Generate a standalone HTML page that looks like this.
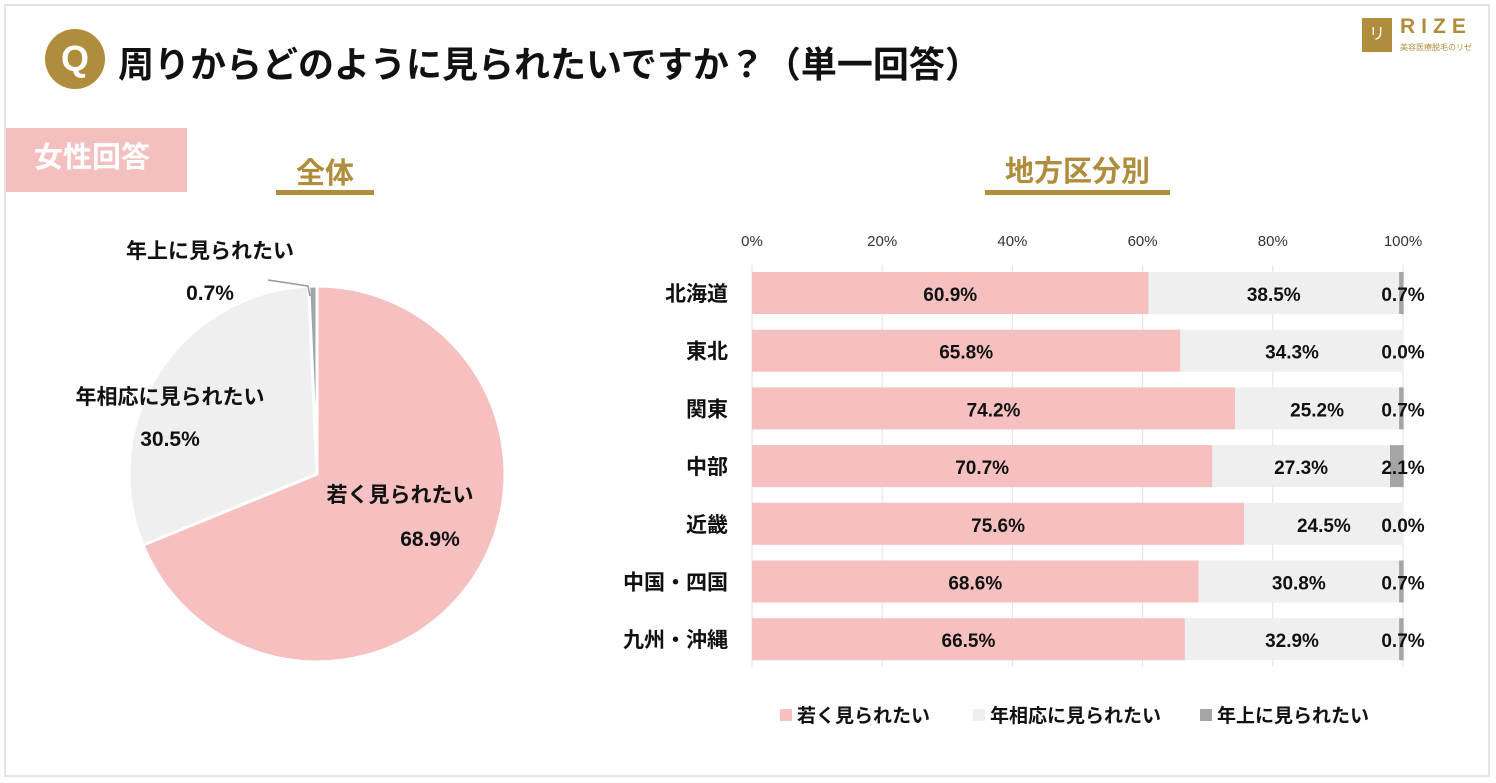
<!DOCTYPE html>
<html><head><meta charset="utf-8"><style>
body{margin:0;background:#fff;}
#wrap{position:relative;width:1496px;height:783px;overflow:hidden;font-family:"Liberation Sans","Noto Sans CJK JP",sans-serif;}
.abs{position:absolute;}
</style></head><body>
<div id="wrap">
<div class="abs" style="left:4px;top:4px;width:1486px;height:773px;border:2px solid #e4e4e4;box-sizing:border-box"></div>
<div class="abs" style="left:45px;top:29px;width:60px;height:60px;border-radius:50%;background:#b08d3c;color:#fff;font-size:36px;font-weight:bold;text-align:center;line-height:60px">Q</div>
<div class="abs" style="left:118px;top:36px;font-size:36px;font-weight:bold;color:#111;white-space:nowrap">周りからどのように見られたいですか？（単一回答）</div>
<div class="abs" style="left:1362px;top:18px;width:30px;height:34px;background:#b08d3c;color:#fff;font-size:16px;text-align:center;line-height:34px">リゼ</div>
<div class="abs" style="left:1400px;top:15px;font-size:21px;font-weight:bold;color:#b08d3c;letter-spacing:6px">RIZE</div>
<div class="abs" style="left:1400px;top:42px;font-size:8px;color:#b08d3c;white-space:nowrap">美容医療脱毛のリゼ</div>
<div class="abs" style="left:6px;top:128px;width:181px;height:64px;background:#f4c0bf;color:#fff;font-size:29px;font-weight:bold;line-height:60px;padding-left:28px;box-sizing:border-box">女性回答</div>
<div class="abs" style="left:276px;top:150px;width:98px;text-align:center;font-size:29px;font-weight:bold;color:#b08d3c">全体</div>
<div class="abs" style="left:276px;top:190px;width:98px;height:5px;background:#b08d3c"></div>
<div class="abs" style="left:985px;top:148px;width:185px;text-align:center;font-size:29px;font-weight:bold;color:#b08d3c">地方区分別</div>
<div class="abs" style="left:985px;top:190px;width:185px;height:5px;background:#b08d3c"></div>
<svg id="chart" class="abs" style="left:0;top:0" width="1496" height="783"></svg>
</div>
<script>
const pieLabels=["若く見られたい","年相応に見られたい","年上に見られたい"];
const pieValues=[68.9,30.5,0.7];
const regions=["北海道","東北","関東","中部","近畿","中国・四国","九州・沖縄"];
const young=[60.9,65.8,74.2,70.7,75.6,68.6,66.5];
const same=[38.5,34.3,25.2,27.3,24.5,30.8,32.9];
const older=[0.7,0.0,0.7,2.1,0.0,0.7,0.7];
const ticks=[0,20,40,60,80,100];
const colors=["#f5c0bf","#efefef","#a5a5a5"];
const svg=document.getElementById('chart');
const NS="http://www.w3.org/2000/svg";
function mk(t,a,p){const e=document.createElementNS(NS,t);for(const k in a)e.setAttribute(k,a[k]);(p||svg).appendChild(e);return e;}
const F='"Liberation Sans","Noto Sans CJK JP",sans-serif';
const cx=317,cy=474,R=188;
const tot=pieValues.reduce((a,b)=>a+b,0);
let ang=0;
const pieLabelPos=[[400,502,430,546],[170,404,170,446],[210,258,210,300]];
pieValues.forEach((v,i)=>{
 const a0=ang/tot*2*Math.PI, a1=(ang+v)/tot*2*Math.PI; ang+=v;
 const x0=cx+R*Math.sin(a0),y0=cy-R*Math.cos(a0),x1=cx+R*Math.sin(a1),y1=cy-R*Math.cos(a1);
 const p=mk('path',{d:`M${cx},${cy}L${x0},${y0}A${R},${R} 0 ${a1-a0>Math.PI?1:0} 1 ${x1},${y1}Z`,fill:colors[i],stroke:'#fff','stroke-width':3});
 
 
 const lp=pieLabelPos[i];
 const t=mk('text',{x:lp[0],y:lp[1],'text-anchor':'middle','font-size':21,'font-weight':'bold','font-family':F,fill:'#111'});t.textContent=pieLabels[i];
 
 
 const t2=mk('text',{x:lp[2],y:lp[3],'text-anchor':'middle','font-size':21,'font-weight':'bold','font-family':F,fill:'#111'});t2.textContent=v.toFixed(1)+'%';
 
 
});
const ld=mk('polyline',{points:'268,280 308,286 310,296',fill:'none',stroke:'#999','stroke-width':1.5});


const X0=752,X1=1403;const xs=v=>X0+(X1-X0)*v/100;
const rowY=i=>293+i*57.7;const bh=42;
ticks.forEach(t=>{
 const g=mk('line',{x1:xs(t),x2:xs(t),y1:265,y2:667,stroke:'#e2e2e2','stroke-width':1});
 
 
 const l=mk('text',{x:xs(t),y:246,'text-anchor':'middle','font-size':15,'font-family':F,fill:'#333'});l.textContent=t+'%';
 
 
});
regions.forEach((r,i)=>{
 const y=rowY(i);
 const c=mk('text',{x:728,y:y+8,'text-anchor':'end','font-size':21,'font-weight':'bold','font-family':F,fill:'#111'});c.textContent=r;
 
 
 let acc=0;
 [young[i],same[i],older[i]].forEach((v,k)=>{
  const b=mk('rect',{x:xs(acc),y:y-bh/2,width:Math.max(0,xs(acc+v)-xs(acc)),height:bh,fill:colors[k]});
  
  
  acc+=v;
 });
 const lx=[(xs(0)+xs(young[i]))/2,(xs(young[i])+xs(young[i]+same[i]))/2,1403];
 [young[i],same[i],older[i]].forEach((v,k)=>{
  const t=mk('text',{x:lx[k],y:y+8,'text-anchor':'middle','font-size':19,'font-weight':'bold','font-family':F,fill:'#111'});t.textContent=v.toFixed(1)+'%';
  
  
 });
});
const legX=[780,973,1200];
pieLabels.forEach((s,i)=>{
 const r=mk('rect',{x:legX[i],y:709,width:12,height:12,fill:colors[i]});
 
 
 const t=mk('text',{x:legX[i]+17,y:722,'font-size':19,'font-weight':'bold','font-family':F,fill:'#111'});t.textContent=s;
 
 
});
</script>
</body></html>
